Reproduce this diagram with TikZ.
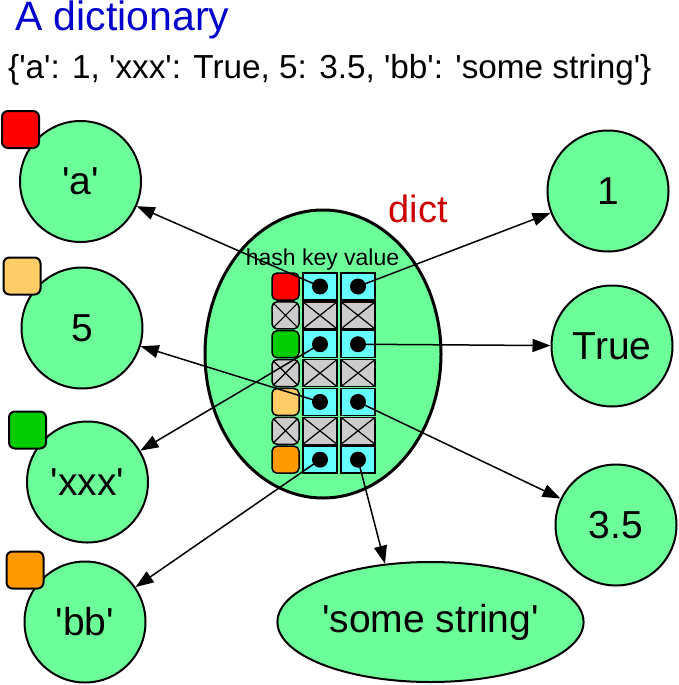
\documentclass[tikz,border=0pt]{standalone}
\usepackage{fontspec}
\newfontfamily\arial{Liberation Sans}
\usepackage{tikz}
\usetikzlibrary{arrows.meta}
\usetikzlibrary{shapes.geometric}
\usetikzlibrary{calc}
\usetikzlibrary{positioning}

\definecolor{objgreen}{HTML}{6CFF99}
\definecolor{cellcyan}{HTML}{66FFFF}
\definecolor{cellgray}{HTML}{CCCCCC}
\definecolor{hashred}{HTML}{FF0000}
\definecolor{hashgreen}{HTML}{00CC00}
\definecolor{hashtan}{HTML}{FFCC66}
\definecolor{hashorange}{HTML}{FF9900}
\definecolor{titleblue}{HTML}{0000CC}
\definecolor{dictred}{HTML}{CC0000}

\tikzset{
  obj/.style={draw,circle,fill=objgreen,line width=2pt,minimum size=121pt,inner sep=0pt,font=\arial\fontsize{39}{44}\selectfont},
  hashsq/.style={draw,rounded corners=6pt,fill=#1,line width=2pt,minimum size=37pt,inner sep=0pt},
  cell/.style={draw,line width=1.5pt,minimum width=34pt,minimum height=27pt,inner sep=0pt},
  fullcell/.style={cell,fill=cellcyan,path picture={\fill [black] (path picture bounding box.center) circle (8pt);}},
  emptycell/.style={cell,fill=cellgray,path picture={\draw [line width=1.2pt] (path picture bounding box.north west) -- (path picture bounding box.south east) (path picture bounding box.north east) -- (path picture bounding box.south west);}},
  hashfull/.style={cell,minimum width=27pt,rounded corners=5pt,fill=#1},
  hashempty/.style={emptycell,minimum width=27pt,rounded corners=5pt},
  link/.style={-{Triangle[length=18pt,width=13pt]},line width=1.5pt},
}

\begin{document}
\begin{tikzpicture}[x=1pt,y=-1pt,node distance=28.86pt]
\useasboundingbox (0,0) rectangle (679,685);
\draw node [anchor=base west,text=titleblue,font=\arial\fontsize{41}{46}\selectfont,inner sep=0pt] (title) at (15,31) {A dictionary};
\draw node [anchor=base west,font=\arial\fontsize{33.3}{38}\selectfont,inner sep=0pt] (literal) at (8,78) {\{'a': 1, 'xxx': True, 5: 3.5, 'bb': 'some string'\}};
\draw node [draw,ellipse,fill=objgreen,line width=3pt,minimum width=236pt,minimum height=288pt] (D) at (323,354) {};
\draw node [anchor=base,text=dictred,font=\arial\fontsize{38}{42}\selectfont,inner sep=0pt] (dictlabel) at (418,222) {dict};
\draw node [anchor=base,font=\arial\fontsize{23}{26}\selectfont,inner sep=0pt] (cols) at (322.5,265) {hash key value};
\draw node [hashfull=hashred] (H0) at (285.5,286.5) {};
\draw node [hashempty] [below of=H0] (H1) {};
\draw node [hashfull=hashgreen] [below of=H1] (H2) {};
\draw node [hashempty] [below of=H2] (H3) {};
\draw node [hashfull=hashtan] [below of=H3] (H4) {};
\draw node [hashempty] [below of=H4] (H5) {};
\draw node [hashfull=hashorange] [below of=H5] (H6) {};
\draw node [fullcell] (K0) at (320,286.5) {};
\draw node [emptycell] [below of=K0] (K1) {};
\draw node [fullcell] [below of=K1] (K2) {};
\draw node [emptycell] [below of=K2] (K3) {};
\draw node [fullcell] [below of=K3] (K4) {};
\draw node [emptycell] [below of=K4] (K5) {};
\draw node [fullcell] [below of=K5] (K6) {};
\draw node [fullcell] (V0) at (358,286.5) {};
\draw node [emptycell] [below of=V0] (V1) {};
\draw node [fullcell] [below of=V1] (V2) {};
\draw node [emptycell] [below of=V2] (V3) {};
\draw node [fullcell] [below of=V3] (V4) {};
\draw node [emptycell] [below of=V4] (V5) {};
\draw node [fullcell] [below of=V5] (V6) {};
\draw node [obj] (Oa) at (80.5,181.5) {'a'};
\draw node [hashsq=hashred] (Sa) at ($ (Oa) + (-60,-52) $) {};
\draw node [obj] (O5) at (82,328) {5};
\draw node [hashsq=hashtan] (S5) at ($ (O5) + (-60,-52) $) {};
\draw node [obj] (Oxxx) at (87.5,482) {'xxx'};
\draw node [hashsq=hashgreen] (Sxxx) at ($ (Oxxx) + (-60,-52) $) {};
\draw node [obj] (Obb) at (85,622) {'bb'};
\draw node [hashsq=hashorange] (Sbb) at ($ (Obb) + (-60,-52) $) {};
\draw node [obj] (O1) at (608,191) {1};
\draw node [obj] (OTrue) at (612,346) {True};
\draw node [obj] (O35) at (616,525) {3.5};
\draw node [obj,ellipse,minimum width=291pt,minimum height=120pt] (Ostr) at (430.5,622) {'some string'};
\draw [link] (K0.center) -- (Oa);
\draw [link] (V0.center) -- (O1);
\draw [link] (K2.center) -- (Oxxx);
\draw [link] (V2.center) -- (OTrue);
\draw [link] (K4.center) -- (O5);
\draw [link] (V4.center) -- (O35);
\draw [link] (K6.center) -- (Obb);
\draw [link] (V6.center) -- (Ostr.128);
\end{tikzpicture}
\end{document}
